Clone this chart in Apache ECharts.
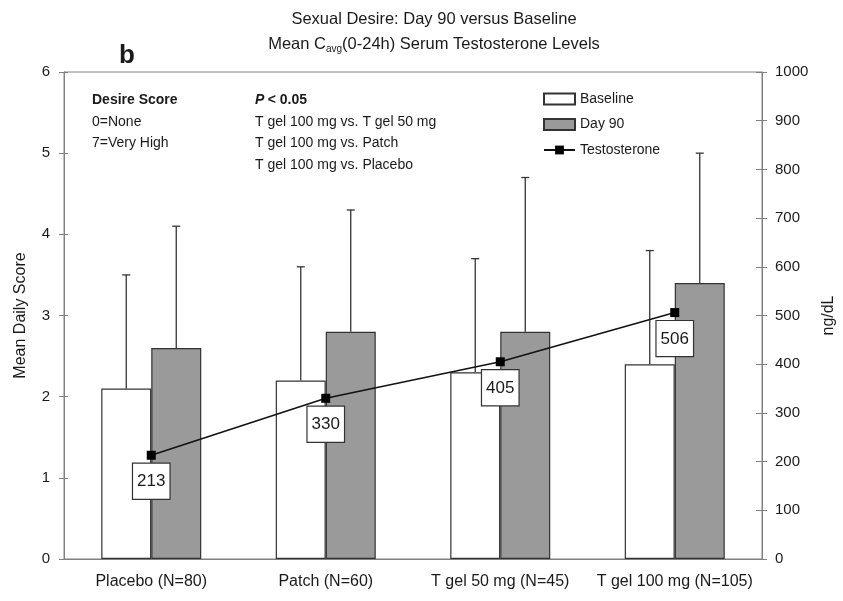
<!DOCTYPE html>
<html>
<head>
<meta charset="utf-8">
<script src="https://cdn.jsdelivr.net/npm/echarts@6/dist/echarts.min.js"></script>
<style>
html,body{margin:0;padding:0;background:#fff;overflow:hidden;}
#chart{width:843px;height:601px;}
</style>
</head>
<body>
<div id="chart"></div>
<script>
const categories = ['Placebo (N=80)', 'Patch (N=60)', 'T gel 50 mg (N=45)', 'T gel 100 mg (N=105)'];
const baseline = [2.1, 2.2, 2.3, 2.4];
const baselineUpper = [3.5, 3.6, 3.7, 3.8];
const day90 = [2.6, 2.8, 2.8, 3.4];
const day90Upper = [4.1, 4.3, 4.7, 5.0];
const testosterone = [213, 330, 405, 506];
const leftTicks = {min: 0, max: 6, interval: 1};
const rightTicks = {min: 0, max: 1000, interval: 100};

const FONT = 'Liberation Sans, Arial, sans-serif';
const INK = '#1a1a1a';
const EDGE = '#333333';
const AXIS = '#808080';

function errRender(offset) {
  return function (params, api) {
    const i = api.value(0);
    const hi = api.coord([i, api.value(1)]);
    const lo = api.coord([i, api.value(2)]);
    const cx = hi[0] + offset;
    const st = {stroke: EDGE, lineWidth: 1.3};
    return {
      type: 'group',
      children: [
        {type: 'line', shape: {x1: cx, y1: lo[1], x2: cx, y2: hi[1]}, style: st},
        {type: 'line', shape: {x1: cx - 4, y1: hi[1], x2: cx + 4, y2: hi[1]}, style: st}
      ]
    };
  };
}

const chart = echarts.init(document.getElementById('chart'), null, {renderer: 'canvas'});

const yCommon = {
  type: 'value',
  splitLine: {show: false},
  axisLine: {show: true, lineStyle: {color: AXIS, width: 1}},
  axisTick: {show: true, length: 5, lineStyle: {color: AXIS}},
  axisLabel: {color: INK, fontFamily: FONT, fontSize: 15, formatter: v => String(v)},
};

chart.setOption({
  animation: false,
  backgroundColor: '#ffffff',
  textStyle: {fontFamily: FONT},
  title: [
    {text: 'Sexual Desire: Day 90 versus Baseline', left: 429, top: 6, textAlign: 'center',
     textStyle: {fontFamily: FONT, fontSize: 16.5, fontWeight: 'normal', color: INK}},
    {text: 'Mean C{sub|avg}(0-24h) Serum Testosterone Levels', left: 429, top: 30, textAlign: 'center',
     textStyle: {fontFamily: FONT, fontSize: 16.5, fontWeight: 'normal', color: INK,
       rich: {sub: {fontFamily: FONT, fontSize: 10, color: INK, padding: [9, 0, 0, 0]}}}}
  ],
  grid: {left: 64, right: 81, top: 72, bottom: 42, containLabel: false, outerBoundsMode: 'none',
         show: true, borderColor: AXIS, borderWidth: 1, backgroundColor: 'transparent'},
  legend: {
    orient: 'vertical', left: 538, top: 87, itemWidth: 31, itemHeight: 11, itemGap: 11.5,
    textStyle: {fontFamily: FONT, fontSize: 14, color: INK},
    data: [
      {name: 'Baseline', icon: 'rect'},
      {name: 'Day 90', icon: 'rect'},
      {name: 'Testosterone'}
    ]
  },
  xAxis: {
    type: 'category', data: categories,
    axisLine: {show: true, lineStyle: {color: AXIS, width: 1}},
    axisTick: {show: false},
    axisLabel: {color: INK, fontFamily: FONT, fontSize: 16, margin: 15, interval: 0},
    splitLine: {show: false}
  },
  yAxis: [
    Object.assign({}, yCommon, leftTicks, {position: 'left',
      name: 'Mean Daily Score', nameLocation: 'middle', nameGap: 35, nameRotate: 90,
      nameTextStyle: {fontFamily: FONT, fontSize: 16, color: INK},
      axisLabel: {color: INK, fontFamily: FONT, fontSize: 15, margin: 14, formatter: v => String(v)}}),
    Object.assign({}, yCommon, rightTicks, {position: 'right',
      name: 'ng/dL', nameLocation: 'middle', nameGap: 59, nameRotate: 90,
      nameTextStyle: {fontFamily: FONT, fontSize: 16, color: INK},
      axisLabel: {color: INK, fontFamily: FONT, fontSize: 15, margin: 13, formatter: v => String(v)}}),
    Object.assign({}, yCommon, leftTicks, {position: 'left', axisLine: {show: false},
      axisTick: {show: true, inside: true, length: 4, lineStyle: {color: AXIS}}, axisLabel: {show: false}}),
    Object.assign({}, yCommon, rightTicks, {position: 'right', axisLine: {show: false},
      axisTick: {show: true, inside: true, length: 6, lineStyle: {color: AXIS}}, axisLabel: {show: false}})
  ],
  graphic: [
    {type: 'text', left: 119, top: 43, style: {text: 'b', font: 'bold 26px ' + FONT, fill: INK}},
    {type: 'text', left: 92, top: 93, style: {text: 'Desire Score', font: 'bold 14px ' + FONT, fill: INK}},
    {type: 'text', left: 92, top: 115, style: {text: '0=None', font: '14px ' + FONT, fill: INK}},
    {type: 'text', left: 92, top: 136, style: {text: '7=Very High', font: '14px ' + FONT, fill: INK}},
    {type: 'text', left: 255, top: 93, style: {text: '{p|P} {b|< 0.05}', fill: INK,
      rich: {p: {fontFamily: FONT, fontSize: 14, fontWeight: 'bold', fontStyle: 'italic', fill: INK},
             b: {fontFamily: FONT, fontSize: 14, fontWeight: 'bold', fill: INK}}}},
    {type: 'text', left: 255, top: 115, style: {text: 'T gel 100 mg vs. T gel 50 mg', font: '14px ' + FONT, fill: INK}},
    {type: 'text', left: 255, top: 136, style: {text: 'T gel 100 mg vs. Patch', font: '14px ' + FONT, fill: INK}},
    {type: 'text', left: 255, top: 158, style: {text: 'T gel 100 mg vs. Placebo', font: '14px ' + FONT, fill: INK}}
  ],
  series: [
    {name: 'Baseline', type: 'bar', data: baseline, barWidth: 50, barGap: '0%',
     itemStyle: {color: '#ffffff', borderColor: EDGE, borderWidth: 1.2}, z: 2},
    {name: 'Day 90', type: 'bar', data: day90, barWidth: 50, barGap: '0%',
     itemStyle: {color: '#9a9a9a', borderColor: EDGE, borderWidth: 1.2}, z: 2},
    {name: 'BaselineErr', type: 'custom', renderItem: errRender(-25),
     data: baseline.map((v, i) => [i, baselineUpper[i], v]), z: 3, silent: true},
    {name: 'Day90Err', type: 'custom', renderItem: errRender(25),
     data: day90.map((v, i) => [i, day90Upper[i], v]), z: 3, silent: true},
    {name: 'Testosterone', type: 'line', yAxisIndex: 1, data: testosterone,
     symbol: 'rect', symbolSize: 9, z: 5,
     itemStyle: {color: '#000000'},
     lineStyle: {color: '#111111', width: 1.5},
     label: {show: true, position: 'bottom', distance: 4, fontFamily: FONT, fontSize: 17, color: INK,
       backgroundColor: '#ffffff', borderColor: EDGE, borderWidth: 1.2, padding: [9, 4, 8, 4], lineHeight: 18}}
  ]
});
</script>
</body>
</html>
